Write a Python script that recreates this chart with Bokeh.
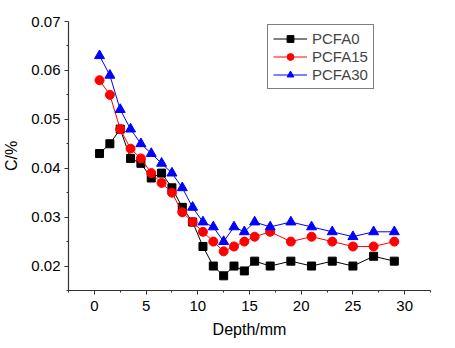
from bokeh.plotting import figure
from bokeh.models import Range1d, FixedTicker, Legend, LegendItem
from bokeh.embed import file_html
from bokeh.resources import INLINE

depth = [0.5, 1.5, 2.5, 3.5, 4.5, 5.5, 6.5, 7.5, 8.5, 9.5, 10.5, 11.5, 12.5,
         13.5, 14.5, 15.5, 17, 19, 21, 23, 25, 27, 29]
pcfa0 = [0.043, 0.045, 0.048, 0.042, 0.041, 0.038, 0.039, 0.036, 0.032, 0.029, 0.024,
         0.020, 0.018, 0.020, 0.019, 0.021, 0.020, 0.021, 0.020, 0.021, 0.020, 0.022, 0.021]
pcfa15 = [0.058, 0.055, 0.048, 0.044, 0.042, 0.039, 0.037, 0.035, 0.031, 0.029, 0.027,
          0.025, 0.023, 0.024, 0.025, 0.026, 0.027, 0.025, 0.026, 0.025, 0.024, 0.024, 0.025]
pcfa30 = [0.063, 0.059, 0.052, 0.048, 0.045, 0.043, 0.041, 0.039, 0.036, 0.032, 0.029,
          0.028, 0.025, 0.028, 0.027, 0.029, 0.028, 0.029, 0.028, 0.027, 0.026, 0.027, 0.027]

x_ticks = [0, 5, 10, 15, 20, 25, 30]
x_minor = [-2.5, 2.5, 7.5, 12.5, 17.5, 22.5, 27.5, 32.5]
y_ticks = [0.02, 0.03, 0.04, 0.05, 0.06, 0.07]
y_minor = [0.015, 0.025, 0.035, 0.045, 0.055, 0.065]

FONT = "Liberation Sans"

p = figure(width=455, height=348, output_backend="svg", toolbar_location=None,
           x_range=Range1d(-2.5, 32.5), y_range=Range1d(0.015, 0.07),
           min_border_left=68, min_border_right=25, min_border_top=21, min_border_bottom=58)
p.outline_line_color = None
p.xgrid.visible = False
p.ygrid.visible = False
p.background_fill_color = "white"
p.border_fill_color = "white"

p.xaxis.ticker = FixedTicker(ticks=x_ticks, minor_ticks=x_minor)
p.yaxis.ticker = FixedTicker(ticks=y_ticks, minor_ticks=y_minor)
p.xaxis.axis_label = "Depth/mm"
p.yaxis.axis_label = "C/%"
for ax in (p.xaxis[0], p.yaxis[0]):
    ax.axis_line_color = "#333333"
    ax.axis_line_width = 1.2
    ax.major_tick_line_color = "#333333"
    ax.minor_tick_line_color = "#333333"
    ax.major_tick_out = 4
    ax.major_tick_in = 0
    ax.minor_tick_out = 2
    ax.minor_tick_in = 0
    ax.major_label_text_font = FONT
    ax.major_label_text_font_size = "15px"
    ax.major_label_text_color = "black"
    ax.axis_label_text_font = FONT
    ax.axis_label_text_font_size = "16px"
    ax.axis_label_text_font_style = "normal"
    ax.axis_label_text_color = "black"
p.xaxis.major_label_standoff = 6
p.yaxis.major_label_standoff = 4
p.xaxis.axis_label_standoff = 7
p.yaxis.axis_label_standoff = 8

l0 = p.line(depth, pcfa0, color="black", line_width=1)
m0 = p.scatter(depth, pcfa0, marker="square", size=8, color="black")
l1 = p.line(depth, pcfa15, color="red", line_width=1)
m1 = p.scatter(depth, pcfa15, marker="circle", size=9, color="red")
l2 = p.line(depth, pcfa30, color="blue", line_width=1)
m2 = p.scatter(depth, pcfa30, marker="triangle", size=10, color="blue")

legend = Legend(items=[
    LegendItem(label="PCFA0", renderers=[l0, m0]),
    LegendItem(label="PCFA15", renderers=[l1, m1]),
    LegendItem(label="PCFA30", renderers=[l2, m2]),
], location=(199, 201))
legend.border_line_color = "black"
legend.border_line_width = 1
legend.label_text_font = FONT
legend.label_text_font_size = "15px"
legend.glyph_width = 34
legend.glyph_height = 17
legend.label_height = 17
legend.spacing = 1
legend.padding = 5
legend.margin = 0
legend.label_standoff = 5
legend.background_fill_alpha = 1
p.add_layout(legend)

open("out.html", "w").write(file_html(p, INLINE))
